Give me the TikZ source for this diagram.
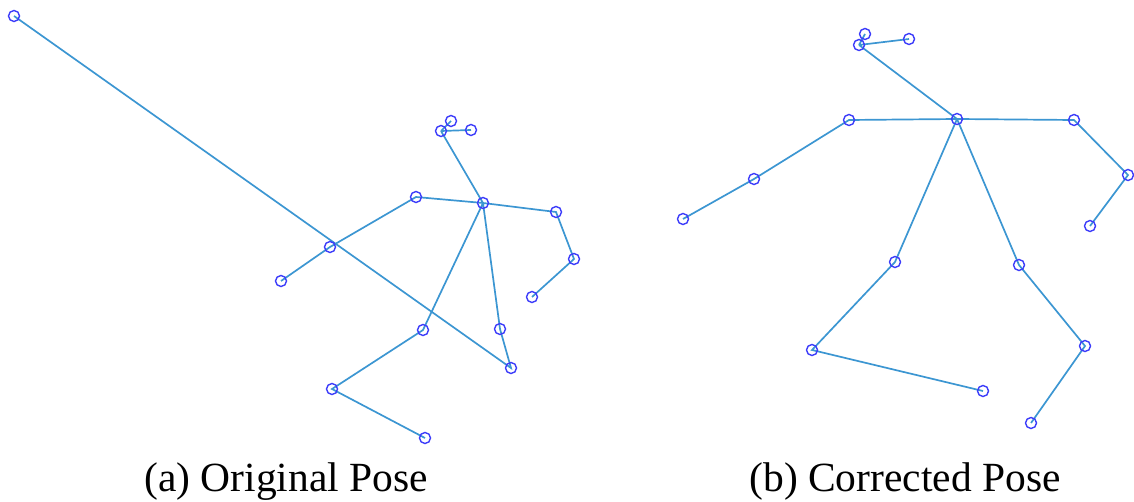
\documentclass[tikz,border=0pt]{standalone}
\usepackage{fontspec}
\setmainfont{Liberation Serif}
\newfontfamily\capfont{Liberation Serif}
\begin{document}
\begin{tikzpicture}[x=1pt,y=-1pt,
  bone/.style={draw={rgb,255:red,60;green,150;blue,210}, line width=1.7pt},
  joint/.style={circle, draw={rgb,255:red,60;green,60;blue,250}, line width=1.4pt, minimum size=11pt, inner sep=0pt},
  captext/.style={font=\capfont\fontsize{41.5}{48}\selectfont, anchor=base, inner sep=0pt}]
\useasboundingbox (0,0) rectangle (1134,502);
% ---- (a) original pose: coordinates
\foreach \n/\x/\y in {aN/483/203, aH1/441/131, aH2/451/121, aH3/471/130,
  aLS/416/197, aLE/330/247, aLW/281/281,
  aRS/556/212, aRE/574/259, aRW/532/297,
  aP1/423/330, aK1/332/389, aA1/425/438,
  aP2/500/329, aK2/511/368, aA2/14/16}
  \coordinate (\n) at (\x,\y);
\draw[bone] (aN)--(aH1) (aH1)--(aH3) (aH1)--(aH2)
  (aN)--(aLS)--(aLE)--(aLW)
  (aN)--(aRS)--(aRE)--(aRW)
  (aN)--(aP1)--(aK1)--(aA1)
  (aN)--(aP2)--(aK2)--(aA2);
\foreach \n in {aN,aH1,aH2,aH3,aLS,aLE,aLW,aRS,aRE,aRW,aP1,aK1,aA1,aP2,aK2,aA2}
  \node[joint] at (\n) {};
% ---- (b) corrected pose
\foreach \n/\x/\y in {bN/957/119, bH1/859/45, bH2/865/34, bH3/909/39,
  bLS/849/120, bLE/754/179, bLW/683/219,
  bRS/1074/120, bRE/1128/175, bRW/1090/226,
  bP1/895/262, bK1/812/350, bA1/983/391,
  bP2/1019/265, bK2/1085/346, bA2/1031/423}
  \coordinate (\n) at (\x,\y);
\draw[bone] (bN)--(bH1) (bH1)--(bH3) (bH1)--(bH2)
  (bN)--(bLS)--(bLE)--(bLW)
  (bN)--(bRS)--(bRE)--(bRW)
  (bN)--(bP1)--(bK1)--(bA1)
  (bN)--(bP2)--(bK2)--(bA2);
\foreach \n in {bN,bH1,bH2,bH3,bLS,bLE,bLW,bRS,bRE,bRW,bP1,bK1,bA1,bP2,bK2,bA2}
  \node[joint] at (\n) {};
% ---- captions
\node[captext] (capa) at (286,491) {(a) Original Pose};
\node[captext] (capb) at (905,491) {(b) Corrected Pose};
\end{tikzpicture}
\end{document}
